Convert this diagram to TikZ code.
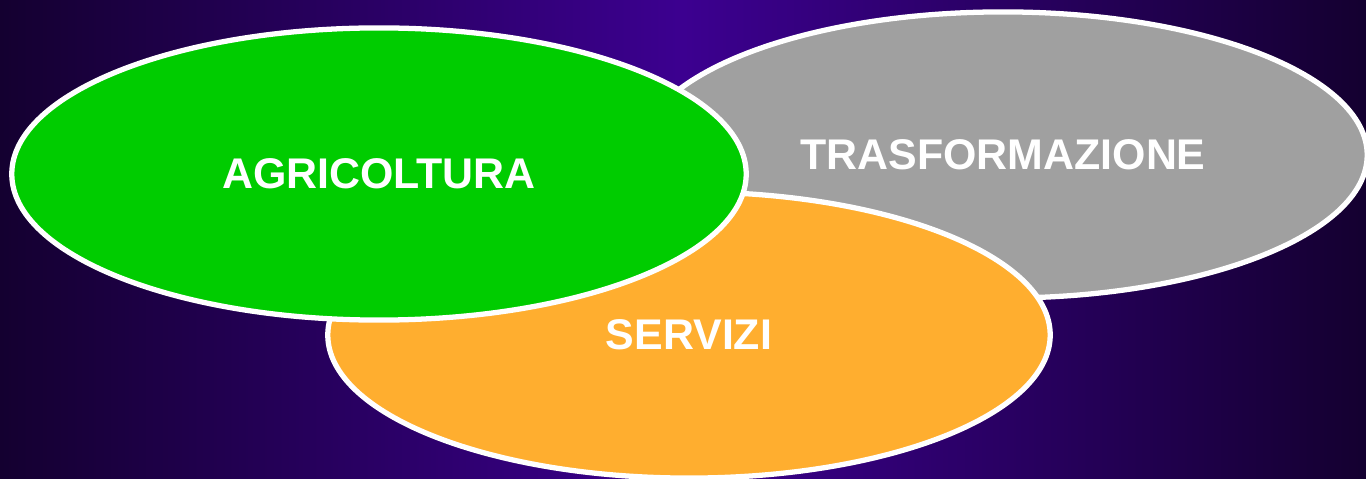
\documentclass[tikz,border=0pt]{standalone}
\usepackage{fontspec}
\setmainfont{Liberation Sans}
\usetikzlibrary{shapes.geometric}
\definecolor{bgdark}{HTML}{140030}
\definecolor{bgmid}{HTML}{3C0090}
\definecolor{agrigreen}{HTML}{00CC00}
\definecolor{trasgray}{HTML}{A0A0A0}
\definecolor{servorange}{HTML}{FFAE2F}
\tikzstyle{sector} = [ellipse, draw=white, line width=1.5pt, inner sep=0pt, text=white, font=\fontsize{12.2}{14}\selectfont\bfseries]
\tikzstyle{agri} = [sector, fill=agrigreen, minimum width=7.34cm, minimum height=2.92cm]
\tikzstyle{tras} = [sector, fill=trasgray, minimum width=7.28cm, minimum height=2.86cm]
\tikzstyle{serv} = [sector, fill=servorange, minimum width=7.22cm, minimum height=2.86cm]

\begin{document}
\begin{tikzpicture}[x=0.01cm, y=-0.01cm]

\shade [left color=bgdark, right color=bgdark, middle color=bgmid] (0,0) rectangle (1366,479);
\useasboundingbox (0,0) rectangle (1366,479);

\node (tras) [tras] at (1003,155) {TRASFORMAZIONE};
\node (serv) [serv] at (689,335) {SERVIZI};
\node (agri) [agri] at (379,174) {AGRICOLTURA};

\end{tikzpicture}
\end{document}
